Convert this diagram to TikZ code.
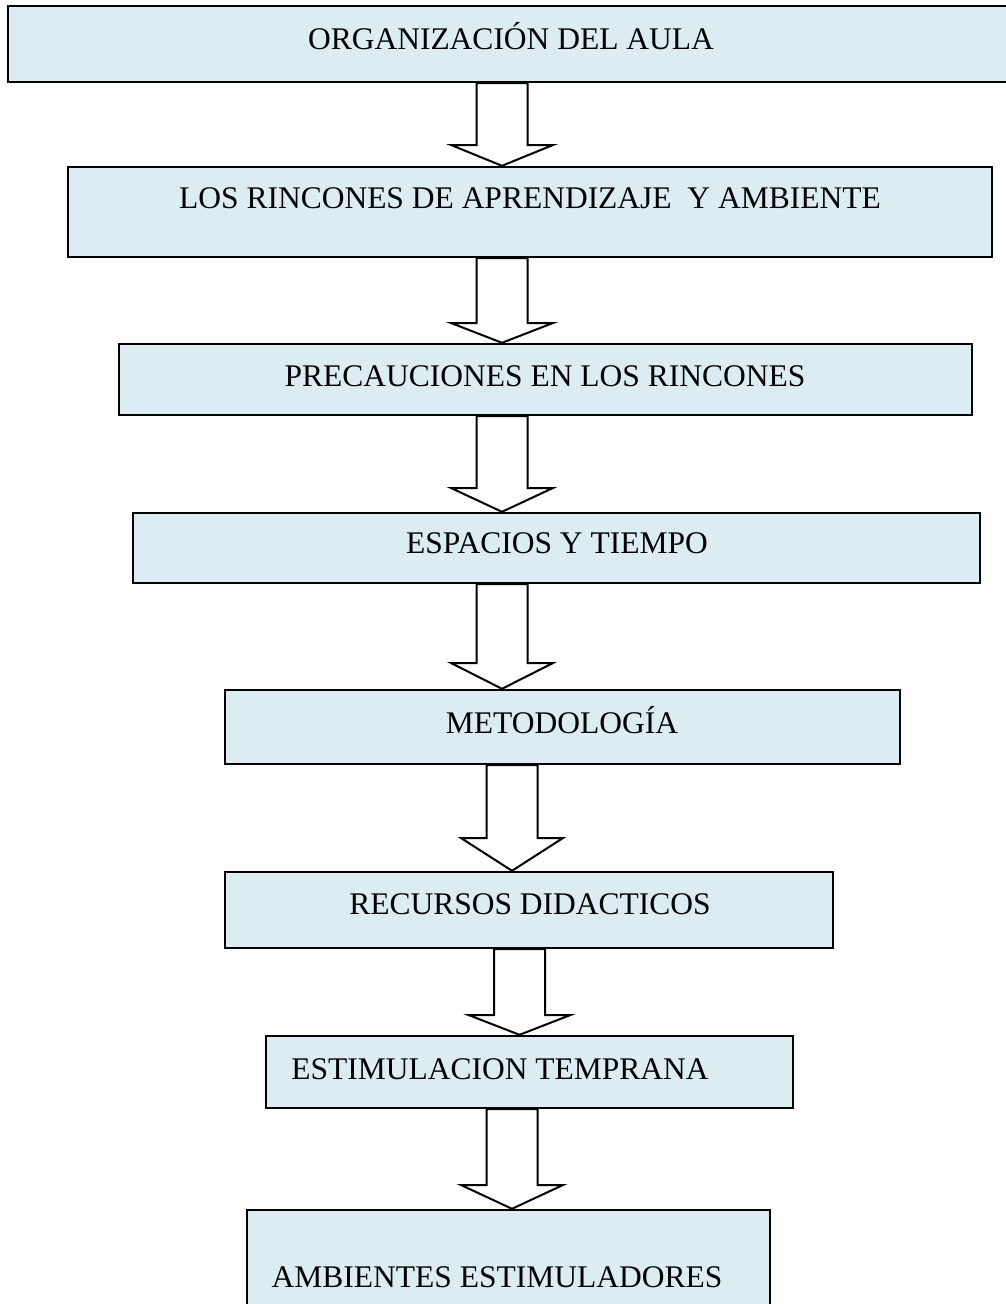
\documentclass[tikz,border=0pt]{standalone}
\usepackage{fontspec}
\setmainfont{Liberation Serif}
\definecolor{boxfill}{RGB}{219,237,243}
\tikzset{
  box/.style={draw=black, fill=boxfill, line width=2.4pt, rectangle, inner sep=0pt},
  lbl/.style={anchor=base, inner sep=0pt, font=\fontsize{31.5}{36}\selectfont},
  fat/.style={draw=black, fill=white, line width=2pt, line join=miter}
}
\newcommand{\fatarrow}[4]{% upper node, lower node, centre x, head y
  \draw[fat] (#3-25.5,0 |- #1.south) -- (#3-25.5,#4) -- (#3-51,#4) -- (#3,0 |- #2.north)
    -- (#3+51,#4) -- (#3+25.5,#4) -- (#3+25.5,0 |- #1.south) -- cycle;}
\begin{document}
\begin{tikzpicture}[x=1pt,y=-1pt]
\useasboundingbox (0,0) rectangle (1006,1304);
\node[box, minimum width=1012pt, minimum height=76pt] (b1) at (514,44) {};
\node[box, minimum width=924pt, minimum height=90pt] (b2) at (530,212) {};
\node[box, minimum width=853pt, minimum height=71pt] (b3) at (545.5,379.5) {};
\node[box, minimum width=847pt, minimum height=70pt] (b4) at (556.5,548) {};
\node[box, minimum width=675pt, minimum height=74pt] (b5) at (562.5,727) {};
\node[box, minimum width=608pt, minimum height=76pt] (b6) at (529,910) {};
\node[box, minimum width=527pt, minimum height=72pt] (b7) at (529.5,1072) {};
\node[box, minimum width=523pt, minimum height=110pt] (b8) at (508.5,1265) {};
\node[lbl] (t1) at (511,49) {ORGANIZACIÓN DEL AULA};
\node[lbl] (t2) at (530,208) {LOS RINCONES DE APRENDIZAJE\ \ Y AMBIENTE};
\node[lbl] (t3) at (545,386) {PRECAUCIONES EN LOS RINCONES};
\node[lbl] (t4) at (557,553) {ESPACIOS Y TIEMPO};
\node[lbl] (t5) at (562,733) {METODOLOGÍA};
\node[lbl] (t6) at (530,914) {RECURSOS DIDACTICOS};
\node[lbl] (t7) at (500,1079) {ESTIMULACION TEMPRANA};
\node[lbl] (t8) at (497,1287) {AMBIENTES ESTIMULADORES};
\fatarrow{b1}{b2}{502}{145}
\fatarrow{b2}{b3}{502}{323}
\fatarrow{b3}{b4}{502}{488}
\fatarrow{b4}{b5}{502}{663}
\fatarrow{b5}{b6}{512}{838}
\fatarrow{b6}{b7}{519.5}{1015}
\fatarrow{b7}{b8}{512}{1185}
\end{tikzpicture}
\end{document}
